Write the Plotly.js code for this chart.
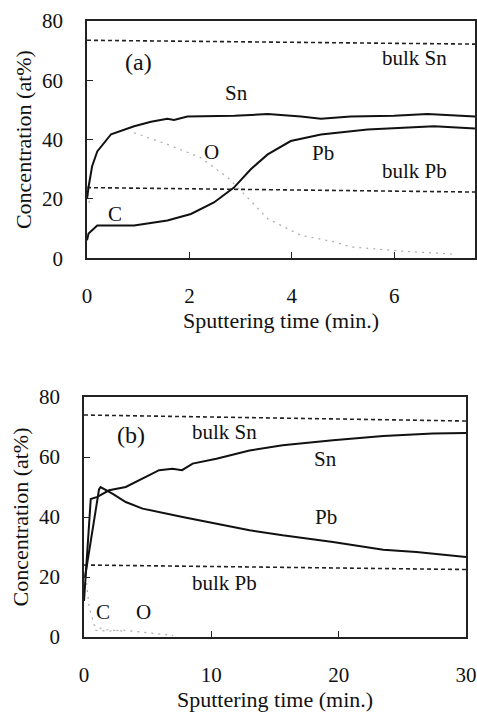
<!DOCTYPE html>
<html><head><meta charset="utf-8">
<script src="https://cdn.plot.ly/plotly-3.0.1.min.js"></script>
</head><body style="margin:0"><div id="chart" style="width:477px;height:718px"></div>
<script>
// Panel (a)
const aSnX = [0.0, 0.03, 0.1, 0.2, 0.47, 0.92, 1.25, 1.57, 1.7, 1.96, 2.88, 3.53, 4.18, 4.57, 5.15, 6.0, 6.65, 7.58];
const aSnY = [20, 24, 31, 36, 41.8, 44.5, 46, 47, 46.6, 47.8, 48, 48.6, 47.8, 47, 47.8, 48, 48.6, 47.8];
const aPbX = [0.0, 0.03, 0.2, 0.92, 1.57, 2.03, 2.48, 2.87, 3.2, 3.53, 3.98, 4.57, 5.48, 6.78, 7.58];
const aPbY = [6, 8.3, 11, 11, 12.7, 14.9, 18.8, 23.8, 30, 35, 39.5, 41.7, 43.4, 44.5, 43.7];
const aOX = [0.92, 1.57, 2.22, 2.75, 3.07, 3.53, 4.18, 4.83, 5.15, 6.13, 7.23];
const aOY = [42.3, 38.4, 33.9, 27.2, 21.6, 13.3, 7.7, 5.5, 3.8, 2.4, 1.3];
const aCX = [0.0, 0.03, 0.06];
const aCY = [24, 19.5, 17];
const aBulkSnX = [0, 7.58], aBulkSnY = [73.5, 72.2];
const aBulkPbX = [0, 7.58], aBulkPbY = [23.8, 22.3];

// Panel (b)
const bSnX = [0.0, 0.53, 1.05, 1.97, 3.28, 4.6, 5.9, 6.95, 7.7, 8.53, 10.4, 13, 15.6, 19.55, 23.5, 27.4, 30];
const bSnY = [12, 46, 46.7, 48.9, 50, 52.8, 55.6, 56.1, 55.6, 57.8, 59.4, 62.2, 63.9, 65.6, 67, 67.8, 68];
const bPbX = [0.08, 1.18, 1.3, 2.23, 3.28, 4.6, 7.74, 10.4, 13, 15.6, 19.55, 23.5, 26.1, 30];
const bPbY = [20, 49.2, 50, 47.8, 45, 42.8, 40, 37.8, 35.6, 33.9, 31.7, 29.1, 28.3, 26.7];
const bCX = [0.2, 0.4, 0.8, 1.5, 3];
const bCY = [18, 10, 4, 2.5, 2];
const bOX = [0.9, 2.0, 3.0, 4.3, 5.5, 7.0];
const bOY = [2.2, 2.0, 2.3, 1.7, 1.2, 0.5];
const bBulkSnX = [0, 30], bBulkSnY = [74, 72];
const bBulkPbX = [0, 30], bBulkPbY = [24, 22.5];

const solid = {color:'#111', width:2};
const dotted = {color:'#aaa', width:1.2, dash:'2px,5px'};
const bulk = {color:'#222', width:1.6, dash:'4px,3px'};
function tr(x,y,line,xa,ya){return {x:x,y:y,mode:'lines',line:line,xaxis:xa,yaxis:ya,showlegend:false,hoverinfo:'skip'};}

const data = [
  tr(aBulkSnX,aBulkSnY,bulk,'x','y'), tr(aBulkPbX,aBulkPbY,bulk,'x','y'),
  tr(aOX,aOY,dotted,'x','y'), tr(aCX,aCY,dotted,'x','y'),
  tr(aSnX,aSnY,solid,'x','y'), tr(aPbX,aPbY,solid,'x','y'),
  tr(bBulkSnX,bBulkSnY,bulk,'x2','y2'), tr(bBulkPbX,bBulkPbY,bulk,'x2','y2'),
  tr(bCX,bCY,dotted,'x2','y2'), tr(bOX,bOY,dotted,'x2','y2'),
  tr(bSnX,bSnY,solid,'x2','y2'), tr(bPbX,bPbY,solid,'x2','y2')
];

const tickF = {family:'Liberation Serif', size:21, color:'#111'};
const titleF = {family:'Liberation Serif', size:22, color:'#111'};
function xax(range, dtick, dom, anchor){return {range:range, dtick:dtick, domain:dom, anchor:anchor, showgrid:false, zeroline:false,
  showline:true, linecolor:'#222', linewidth:1.5, mirror:true, ticks:'inside', ticklen:6, tickcolor:'#222',
  tickfont:tickF, ticklabelstandoff:18, title:{text:'Sputtering time (min.)', font:titleF, standoff:2}};}
function yax(dom, anchor){return {range:[0,80], dtick:20, domain:dom, anchor:anchor, showgrid:false, zeroline:false,
  showline:true, linecolor:'#222', linewidth:1.5, mirror:true, ticks:'inside', ticklen:6, tickcolor:'#222',
  tickfont:tickF, ticklabelstandoff:18, title:{text:'Concentration (at%)', font:titleF, standoff:4}};}

function ann(text,x,y,xr,yr,size){return {text:text,x:x,y:y,xref:xr,yref:yr,showarrow:false,font:{family:'Liberation Serif',size:size||21,color:'#111'}};}

const layout = {
  width:477, height:718, margin:{l:84, r:2, t:21, b:81},
  paper_bgcolor:'#fff', plot_bgcolor:'#fff',
  font:{family:'Liberation Serif', color:'#111'},
  xaxis: xax([0,7.58], 2, [0.0077,1], 'y'),
  yaxis: yax([0.615,1], 'x'),
  xaxis2: xax([0,30], 10, [0,0.977], 'y2'),
  yaxis2: yax([0,0.3896], 'x2'),
  annotations:[
    ann('(a)',1.0,66.2,'x','y',24), ann('bulk Sn',6.4,67.6,'x','y'), ann('Sn',2.93,55.7,'x','y'),
    ann('O',2.44,35.8,'x','y'), ann('Pb',4.61,35.5,'x','y'), ann('bulk Pb',6.4,29.4,'x','y'), ann('C',0.55,14.9,'x','y'),
    ann('(b)',3.7,67.3,'x2','y2',24), ann('bulk Sn',11,68.3,'x2','y2'), ann('Sn',19,59.3,'x2','y2'),
    ann('Pb',19,40,'x2','y2'), ann('bulk Pb',11,18,'x2','y2'), ann('C',1.5,8.3,'x2','y2'), ann('O',4.7,8.3,'x2','y2')
  ]
};
Plotly.newPlot('chart', data, layout, {displayModeBar:false});
</script></body></html>
